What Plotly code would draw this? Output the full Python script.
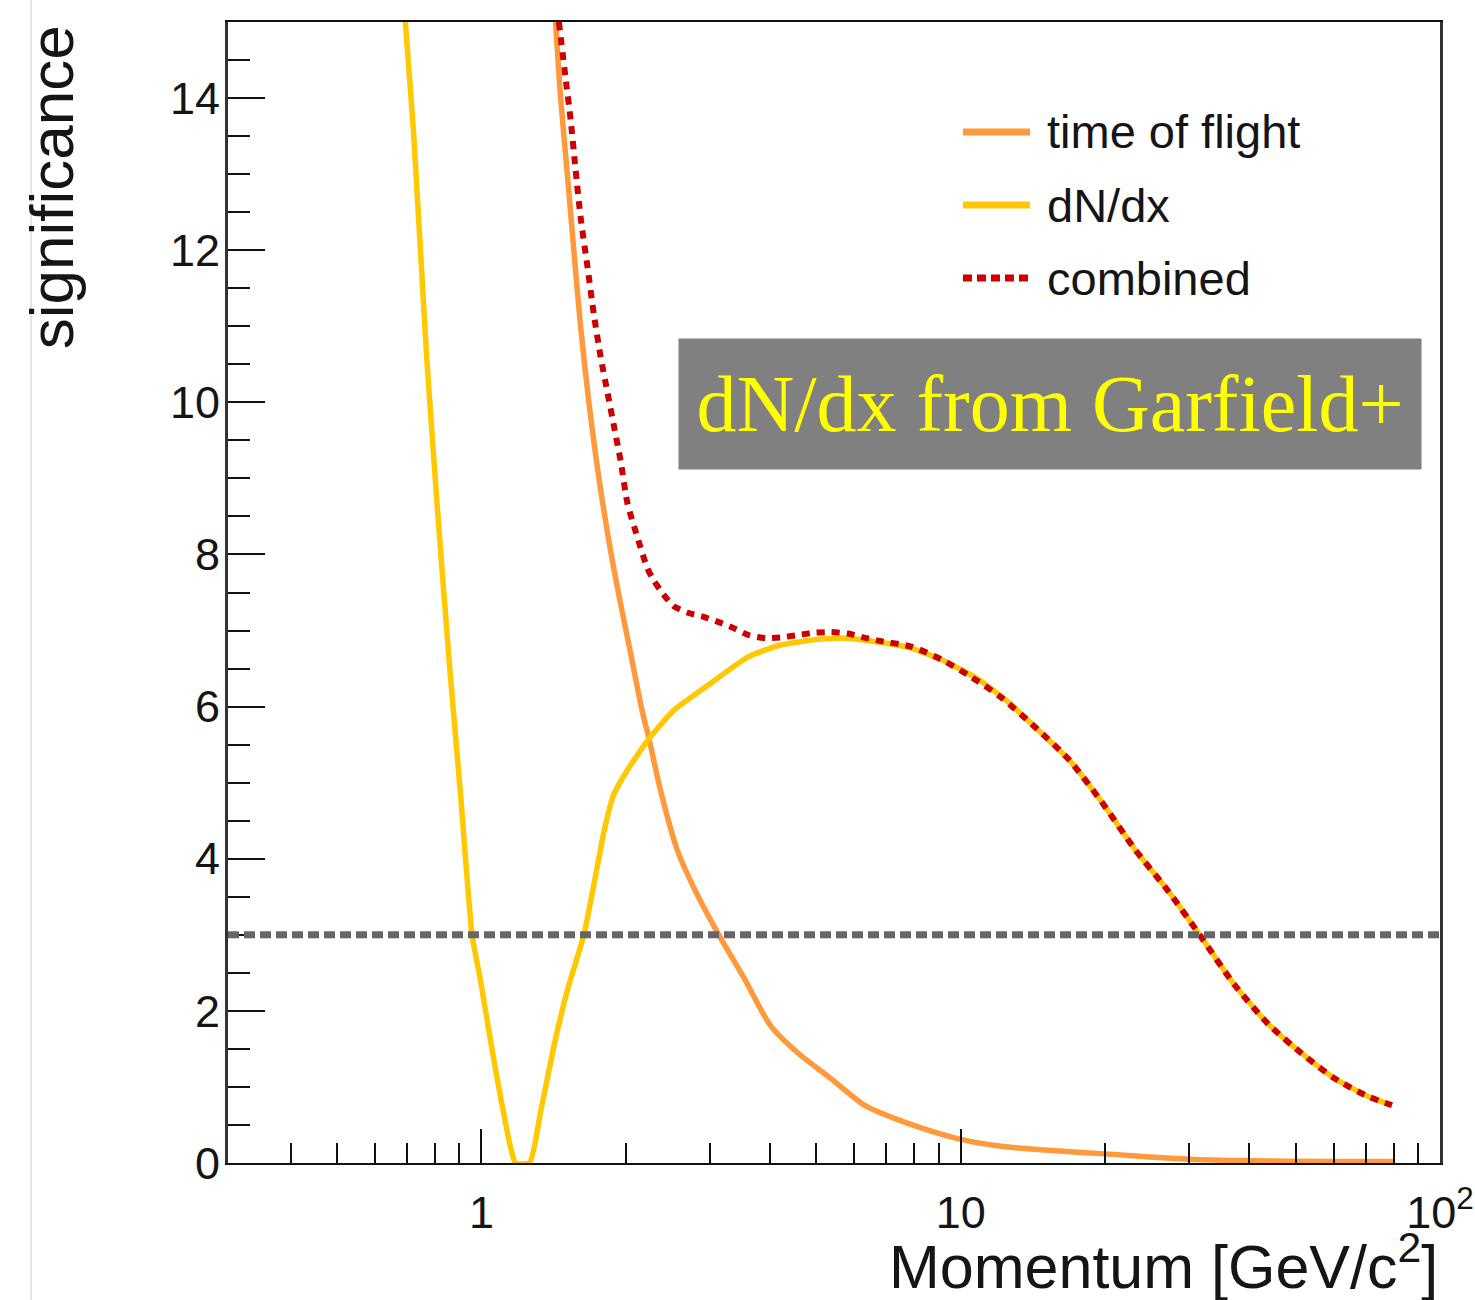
import math
import plotly.graph_objects as go

# ---- significance vs momentum for each identification method ----
tof_p = [1.428, 1.463, 1.511, 1.559, 1.610, 1.676, 1.759, 1.860, 1.952, 2.048,
         2.167, 2.237, 2.366, 2.564, 2.824, 3.128, 3.533, 4.018, 4.569, 5.362,
         6.295, 7.391, 8.678, 10.18, 12.15, 15.0, 20.0, 30.0, 40.0, 60.0, 80.0]
tof_sig = [15.0, 14.0, 13.0, 12.0, 11.0, 10.0, 9.0, 8.05, 7.35, 6.7,
           5.93, 5.58, 4.89, 4.11, 3.52, 3.0, 2.43, 1.80, 1.45, 1.11,
           0.76, 0.57, 0.42, 0.30, 0.22, 0.17, 0.12, 0.05, 0.03, 0.02, 0.02]

dndx_p = [0.694, 0.722, 0.769, 0.815, 0.859, 0.904, 0.956, 0.995, 1.044, 1.096,
          1.150, 1.178, 1.260, 1.328, 1.416, 1.511, 1.636, 1.731, 1.801, 1.890,
          2.019, 2.237, 2.519, 2.910, 3.596, 4.155, 4.941, 5.709, 6.725, 7.880,
          9.238, 10.88, 12.57, 14.24, 16.78, 19.67, 23.05, 27.14, 31.51, 37.29,
          43.93, 51.47, 60.35, 71.05, 79.4]
dndx_sig = [15.0, 13.54, 10.58, 8.35, 6.50, 4.87, 3.0, 2.41, 1.62, 0.87,
            0.21, 0.0, 0.0, 0.66, 1.53, 2.27, 3.0, 3.78, 4.35, 4.85,
            5.17, 5.58, 5.95, 6.24, 6.65, 6.80, 6.88, 6.90, 6.85, 6.77,
            6.60, 6.36, 6.06, 5.74, 5.31, 4.75, 4.13, 3.57, 3.0, 2.34,
            1.82, 1.44, 1.11, 0.87, 0.76]

comb_p = [1.451, 1.498, 1.535, 1.572, 1.610, 1.663, 1.717, 1.773, 1.831, 1.890,
          1.952, 2.016, 2.115, 2.220, 2.288, 2.401, 2.519, 2.708, 2.910, 3.159,
          3.363, 3.614, 3.923, 4.216, 4.575, 4.941, 5.362, 5.821, 6.255, 6.823,
          7.880, 9.105, 10.52, 12.15, 14.24, 16.78, 19.67, 23.05, 27.14, 31.51,
          37.29, 43.93, 51.47, 60.35, 71.05, 79.4]
comb_sig = [15.0, 14.27, 13.72, 13.06, 12.44, 11.80, 11.15, 10.6, 10.14, 9.69,
            9.23, 8.68, 8.23, 7.82, 7.66, 7.47, 7.32, 7.23, 7.18, 7.10,
            7.03, 6.94, 6.90, 6.91, 6.94, 6.97, 6.98, 6.96, 6.91, 6.86,
            6.79, 6.62, 6.39, 6.12, 5.74, 5.31, 4.75, 4.13, 3.57, 3.0,
            2.34, 1.82, 1.44, 1.11, 0.87, 0.76]

threshold = 3.0

series_names = ["time of flight", "dN/dx", "combined"]
series_colors = ["#FF9A3C", "#FFC800", "#CC0000"]

x_major = [1, 10, 100]
x_major_text = ["1", "10", "10<sup>2</sup>"]
x_minor = [0.4, 0.5, 0.6, 0.7, 0.8, 0.9,
           2, 3, 4, 5, 6, 7, 8, 9,
           20, 30, 40, 50, 60, 70, 80, 90]
y_major = [0, 2, 4, 6, 8, 10, 12, 14]
y_minor = [0.5 * k for k in range(1, 30) if k % 4 != 0]

x_title = "Momentum [GeV/c<sup>2</sup>]"
y_title = "significance"
box_text = "dN/dx from Garfield+"

TXT = "#151515"
SANS = "Liberation Sans, Arial, sans-serif"

fig = go.Figure()

fig.add_trace(go.Scatter(x=tof_p, y=tof_sig, mode="lines", name=series_names[0],
                         line=dict(color=series_colors[0], width=5.5,
                                   shape="spline", smoothing=0.8)))
fig.add_trace(go.Scatter(x=dndx_p, y=dndx_sig, mode="lines", name=series_names[1],
                         line=dict(color=series_colors[1], width=5.5,
                                   shape="spline", smoothing=0.5)))
fig.add_trace(go.Scatter(x=comb_p, y=comb_sig, mode="lines", name=series_names[2],
                         line=dict(color=series_colors[2], width=6, dash="8px,7px",
                                   shape="spline", smoothing=0.7)))

# 3-sigma reference line across the full frame
fig.add_hline(y=threshold, line=dict(color="#666666", width=7, dash="11px,5px"),
              layer="above")

# hand-drawn legend (long line samples, ROOT style)
leg_rows = [0.9036, 0.8396, 0.7756]
for name, color, yr in zip(series_names, series_colors, leg_rows):
    dash = "9px,5px" if name == "combined" else "solid"
    fig.add_shape(type="line", xref="paper", yref="paper",
                  x0=0.6064, x1=0.6617, y0=yr, y1=yr,
                  line=dict(color=color, width=7, dash=dash))
    fig.add_annotation(xref="paper", yref="paper", x=0.6741, y=yr,
                       xanchor="left", yanchor="middle", showarrow=False,
                       text=name, font=dict(family=SANS, size=47, color=TXT))

# grey caption box
fig.add_annotation(xref="paper", yref="paper", x=0.6782, y=0.6652,
                   xanchor="center", yanchor="middle", showarrow=False,
                   text=box_text, width=742, height=130, borderpad=0,
                   bgcolor="#808080",
                   font=dict(family="Liberation Serif, Times New Roman, serif",
                             size=80, color="#FFFF00"))

# axis titles, right/top aligned
fig.add_annotation(xref="paper", yref="paper", x=1.0, y=-0.0868,
                   xanchor="right", yanchor="middle", showarrow=False,
                   text=x_title, font=dict(family=SANS, size=61, color=TXT))
fig.add_annotation(xref="paper", yref="paper", x=-0.146, y=0.999,
                   xanchor="center", yanchor="top", showarrow=False,
                   textangle=-90, text=y_title,
                   font=dict(family=SANS, size=62, color=TXT))

# faint page edge on the left
fig.add_shape(type="line", xref="paper", yref="paper",
              x0=-0.1625, x1=-0.1625, y0=-0.125, y1=1.025,
              line=dict(color="#e4e4e4", width=2))

fig.update_xaxes(type="log", range=[math.log10(0.296), 2], automargin=False,
                 showline=True, linecolor="#111111", linewidth=2, mirror=True,
                 showgrid=False, zeroline=False,
                 tickmode="array", tickvals=x_major, ticktext=x_major_text,
                 ticks="inside", ticklen=34, tickwidth=2, tickcolor="#111111",
                 ticklabelstandoff=9,
                 tickfont=dict(family=SANS, size=45, color=TXT),
                 minor=dict(tickmode="array", tickvals=x_minor, ticks="inside",
                            ticklen=20, tickwidth=2, tickcolor="#111111",
                            showgrid=False))
fig.update_yaxes(range=[0, 15], automargin=False,
                 showline=True, linecolor="#333333", linewidth=3, mirror=True,
                 showgrid=False, zeroline=False,
                 tickmode="array", tickvals=y_major,
                 ticks="inside", ticklen=37, tickwidth=2, tickcolor="#111111",
                 ticklabelstandoff=-4,
                 tickfont=dict(family=SANS, size=45, color=TXT),
                 minor=dict(tickmode="array", tickvals=y_minor, ticks="inside",
                            ticklen=22, tickwidth=2, tickcolor="#111111",
                            showgrid=False))

fig.update_layout(width=1475, height=1300,
                  margin=dict(l=228, r=35, t=22, b=137),
                  paper_bgcolor="white", plot_bgcolor="white",
                  showlegend=False)

fig.write_html("out.html")
